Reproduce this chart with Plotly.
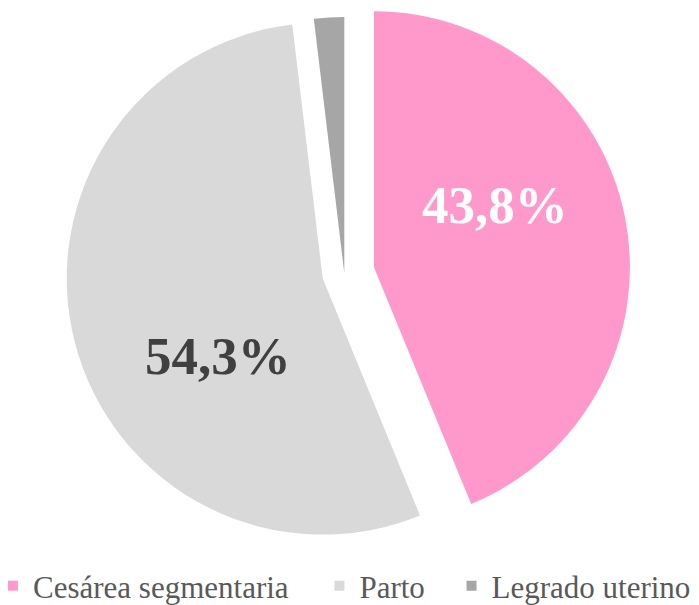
import math
import plotly.graph_objects as go

labels = ["Cesárea segmentaria", "Parto", "Legrado uterino"]
values = [43.8, 54.3, 1.9]
value_text = ["43,8%", "54,3%", ""]

colors = ["#FF99CC", "#D9D9D9", "#A6A6A6"]
text_colors = ["white", "#404040", "#404040"]

# explode amount of each slice (fraction of radius)
pull = [0.118, 0.087, 0.0]

W, H = 699, 605
# pie centre and radius in figure pixels
CX, CY, R = 336.3, 265.0, 256.0

# label spots (paper coords)
label_x = [0.697, 0.301, 0.0]
label_y = [0.675, 0.424, 0.0]

# legend spots (paper coords)
legend_x = [-0.0215, 0.4455, 0.6345]
legend_y = 0.0446

serif = "Liberation Serif"
clear = "rgba(0,0,0,0)"

fig = go.Figure()

# one pie per slice, so each slice can be pushed out on its own
total = sum(values)
start = 0.0
for i in range(len(values)):
    mid = (start + values[i] / 2) / total * 2 * math.pi
    start += values[i]
    cx = CX + pull[i] * R * math.sin(mid)
    cy = CY - pull[i] * R * math.cos(mid)

    fig.add_trace(
        go.Pie(
            labels=labels,
            values=values,
            textinfo="none",
            sort=False,
            direction="clockwise",
            rotation=0,
            marker=dict(
                colors=[c if j == i else clear for j, c in enumerate(colors)],
                line=dict(width=0)
            ),
            domain=dict(
                x=[(cx - R) / W, (cx + R) / W],
                y=[1 - (cy + R) / H, 1 - (cy - R) / H]
            ),
            hoverinfo=["label+percent" if j == i else "none" for j in range(len(values))],
            showlegend=False
        )
    )

for txt, col, x, y in zip(value_text, text_colors, label_x, label_y):
    if not txt:
        continue
    fig.add_annotation(
        text="<b>" + txt + "</b>",
        x=x,
        y=y,
        xref="paper",
        yref="paper",
        xanchor="center",
        yanchor="middle",
        showarrow=False,
        font=dict(family=serif, size=53, color=col)
    )

# legend: one small legend per entry to keep Excel-like spacing
legend_names = ["legend", "legend2", "legend3"]
for i in range(len(labels)):
    fig.add_trace(
        go.Scatter(
            x=[None],
            y=[None],
            mode="markers",
            name=labels[i],
            marker=dict(symbol="square", size=10, color=colors[i]),
            legend=legend_names[i],
            hoverinfo="skip"
        )
    )

legend_style = dict(
    orientation="h",
    xanchor="left",
    yanchor="middle",
    y=legend_y,
    bgcolor="rgba(0,0,0,0)",
    font=dict(family=serif, size=31, color="#595959"),
    itemwidth=30
)

fig.update_layout(
    width=W,
    height=H,
    paper_bgcolor="white",
    plot_bgcolor="white",
    font=dict(family=serif, color="#595959"),
    margin=dict(l=0, r=0, t=0, b=0, autoexpand=False),
    xaxis=dict(visible=False),
    yaxis=dict(visible=False),
    legend=dict(legend_style, x=legend_x[0]),
    legend2=dict(legend_style, x=legend_x[1]),
    legend3=dict(legend_style, x=legend_x[2])
)

fig.write_html("out.html")
